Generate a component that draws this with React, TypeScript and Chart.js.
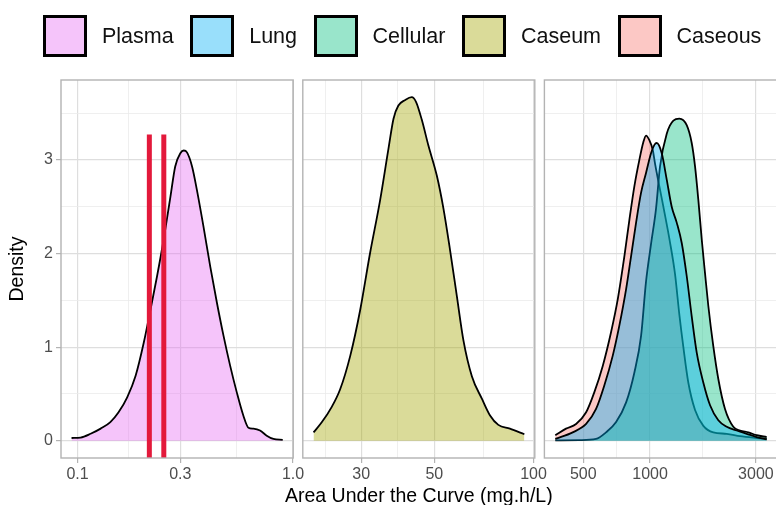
import React, { useEffect, useRef } from "react";
import { Chart, registerables } from "chart.js";

Chart.register(...registerables);

const FONT = "'Liberation Sans', Arial, Helvetica, sans-serif";

// ---------- legend ----------
const legendLabels = ["Plasma", "Lung", "Cellular", "Caseum", "Caseous"];
const legendColors = [
  "rgba(231,107,243,0.4)",
  "rgba(0,176,246,0.4)",
  "rgba(0,191,125,0.4)",
  "rgba(163,165,0,0.4)",
  "rgba(248,118,109,0.4)",
];

// ---------- shared density axis ----------
const densityTicks = [0, 1, 2, 3];
const densityMinor = [0.5, 1.5, 2.5, 3.5];
const densityRange = [-0.1835, 3.853];

// ---------- panel 1: Plasma ----------
const plasmaAuc = [0.0938, 0.1033, 0.115, 0.128, 0.142, 0.155, 0.17, 0.186, 0.203, 0.218, 0.234, 0.251, 0.27, 0.284, 0.3, 0.311, 0.322, 0.34, 0.358, 0.384, 0.413, 0.443, 0.476, 0.511, 0.548, 0.588, 0.621, 0.655, 0.703, 0.755, 0.811, 0.896];
const plasmaDensity = [0.03, 0.035, 0.075, 0.13, 0.2, 0.305, 0.465, 0.695, 1.05, 1.4, 1.76, 2.15, 2.61, 2.93, 3.07, 3.1, 3.08, 2.93, 2.68, 2.29, 1.86, 1.48, 1.12, 0.8, 0.52, 0.27, 0.14, 0.13, 0.11, 0.055, 0.02, 0.01];
const observedAuc = [0.2154, 0.2514];
const observedTop = 3.27;
const panel1Ticks = [0.1, 0.3, 1.0];
const panel1Labels = ["0.1", "0.3", "1.0"];
const panel1Minor = [0.173, 0.548];
const panel1Range = [0.0838, 1.002];

// ---------- panel 2: Caseum ----------
const caseumAuc = [21.5, 22.8, 24.4, 25.9, 27.8, 29.8, 31.9, 34.2, 36.3, 37.6, 38.9, 40.8, 42.7, 44.0, 45.8, 48.0, 50.9, 53.3, 55.8, 58.5, 61.3, 65.0, 69.7, 73.8, 78.2, 84.8, 93.8];
const caseumDensity = [0.09, 0.2, 0.36, 0.55, 0.91, 1.4, 2.0, 2.56, 3.12, 3.44, 3.58, 3.64, 3.67, 3.62, 3.43, 3.15, 2.83, 2.48, 2.04, 1.55, 1.07, 0.69, 0.45, 0.27, 0.17, 0.13, 0.07];
const panel2Ticks = [30, 50, 100];
const panel2Labels = ["30", "50", "100"];
const panel2Minor = [23.3, 38.7, 70.7];
const panel2Range = [19.95, 100.9];

// ---------- panel 3: Caseous, Cellular, Lung ----------
const caseousAuc = [374, 418, 464, 515, 561, 612, 667, 715, 766, 807, 850, 895, 933, 959, 993, 1028, 1053, 1148, 1230, 1296, 1355, 1413, 1488, 1595, 1739, 1928, 2216, 2544, 3025, 3356];
const caseousDensity = [0.06, 0.13, 0.18, 0.305, 0.52, 0.8, 1.16, 1.51, 1.97, 2.36, 2.72, 3.0, 3.19, 3.26, 3.21, 3.11, 2.96, 2.5, 2.12, 1.78, 1.35, 1.0, 0.62, 0.33, 0.16, 0.09, 0.075, 0.05, 0.03, 0.02];
const cellularAuc = [374, 480, 571, 633, 703, 780, 850, 911, 959, 1010, 1064, 1109, 1189, 1274, 1355, 1463, 1541, 1595, 1651, 1710, 1769, 1831, 1928, 2031, 2177, 2373, 2544, 2773, 3025, 3356];
const cellularDensity = [0.005, 0.008, 0.02, 0.09, 0.2, 0.41, 0.73, 1.12, 1.7, 2.1, 2.48, 2.93, 3.28, 3.42, 3.44, 3.37, 3.18, 2.93, 2.57, 2.15, 1.79, 1.44, 1.01, 0.66, 0.34, 0.15, 0.11, 0.09, 0.06, 0.04];
const lungAuc = [374, 448, 515, 571, 622, 679, 727, 780, 821, 865, 911, 959, 1010, 1046, 1072, 1129, 1189, 1252, 1319, 1390, 1463, 1541, 1624, 1739, 1864, 2031, 2216, 2458, 2727, 3025, 3356];
const lungDensity = [0.02, 0.09, 0.18, 0.34, 0.59, 0.91, 1.23, 1.62, 1.97, 2.33, 2.65, 2.86, 3.07, 3.16, 3.18, 3.07, 2.79, 2.5, 2.33, 2.11, 1.76, 1.33, 0.94, 0.62, 0.38, 0.22, 0.15, 0.11, 0.075, 0.04, 0.015];
const panel3Ticks = [500, 1000, 3000];
const panel3Labels = ["500", "1000", "3000"];
const panel3Minor = [707, 1732];
const panel3Range = [334, 3750];

const xTitleText = "Area Under the Curve (mg.h/L)";
const yTitleText = "Density";

// ---------- layout constants ----------
const W = 776;
const H = 505;
const AREA_TOP = 80;
const X_AXIS_H = 47;
const Y_AXIS_W = 61;
const MAJOR_GRID = "#dedede";
const MINOR_GRID = "#ebebeb";
const FRAME = "#b3b3b3";
const TICK_TEXT = "#4d4d4d";

function idx(list: number[], v: number | undefined) {
  if (v === undefined || v === null) return -1;
  return list.findIndex((t) => Math.abs(t - v) <= Math.abs(t) * 1e-6 + 1e-12);
}

const framePlugin = {
  id: "panelFrame",
  afterDatasetsDraw(chart: any) {
    const { ctx, chartArea: a } = chart;
    ctx.save();
    ctx.strokeStyle = FRAME;
    ctx.lineWidth = 1.4;
    ctx.strokeRect(a.left, a.top, a.right - a.left, a.bottom - a.top);
    ctx.restore();
  },
};

// Draws the shared x-axis title centred under the panel, at its natural width
const xTitlePlugin = {
  id: "sharedXTitle",
  afterDraw(chart: any) {
    const text = chart.options.plugins?.sharedXTitle?.text;
    if (!text) return;
    const { ctx, chartArea: a } = chart;
    ctx.save();
    ctx.font = `19.5px ${FONT}`;
    ctx.fillStyle = "#000000";
    ctx.textAlign = "center";
    ctx.textBaseline = "alphabetic";
    ctx.fillText(text, (a.left + a.right) / 2, 502);
    ctx.restore();
  },
};

function curve(label: string, xs: number[], ys: number[], color: string, order: number) {
  return {
    label,
    data: xs.map((x, i) => ({ x, y: ys[i] })),
    borderColor: "#000000",
    borderWidth: 1.8,
    backgroundColor: color,
    fill: "origin",
    pointRadius: 0,
    cubicInterpolationMode: "monotone",
    borderJoinStyle: "round",
    order,
  };
}

type Spec = {
  datasets: any[];
  range: number[];
  ticks: number[];
  labels: string[];
  minor: number[];
  areaLeft: number;
  areaRight: number;
  canvasWidth: number;
  showY: boolean;
  xTitle: string | null;
};

function buildPanel(canvas: HTMLCanvasElement, s: Spec) {
  const xAll = [...s.ticks, ...s.minor].sort((a, b) => a - b);
  const yAll = [...densityTicks, ...densityMinor].sort((a, b) => a - b);
  return new Chart(canvas, {
    type: "line",
    data: { datasets: s.datasets },
    options: {
      responsive: false,
      animation: false,
      events: [],
      layout: {
        autoPadding: false,
        padding: {
          left: s.areaLeft - (s.showY ? Y_AXIS_W : 0),
          right: s.canvasWidth - s.areaRight,
          top: AREA_TOP,
          bottom: 0,
        },
      },
      plugins: {
        legend: { display: false },
        tooltip: { enabled: false },
        sharedXTitle: { text: s.xTitle },
      },
      scales: {
        x: {
          type: "logarithmic",
          min: s.range[0],
          max: s.range[1],
          afterBuildTicks: (sc: any) => {
            sc.ticks = xAll.map((v) => ({ value: v }));
          },
          afterFit: (sc: any) => {
            sc.height = X_AXIS_H;
          },
          border: { display: false },
          grid: {
            drawOnChartArea: true,
            drawTicks: true,
            tickLength: 5,
            color: (c: any) => (idx(s.ticks, c.tick?.value) >= 0 ? MAJOR_GRID : MINOR_GRID),
            lineWidth: (c: any) => (idx(s.ticks, c.tick?.value) >= 0 ? 1.2 : 0.8),
            tickColor: (c: any) => (idx(s.ticks, c.tick?.value) >= 0 ? FRAME : "rgba(0,0,0,0)"),
            tickWidth: 1.2,
          },
          ticks: {
            autoSkip: false,
            maxRotation: 0,
            minRotation: 0,
            padding: 2,
            color: TICK_TEXT,
            font: { family: FONT, size: 16 },
            callback: (v: any) => {
              const i = idx(s.ticks, Number(v));
              return i >= 0 ? s.labels[i] : "";
            },
          },
          title: { display: false },
        },
        y: {
          type: "linear",
          min: densityRange[0],
          max: densityRange[1],
          afterBuildTicks: (sc: any) => {
            sc.ticks = yAll.map((v) => ({ value: v }));
          },
          afterFit: (sc: any) => {
            sc.width = s.showY ? Y_AXIS_W : 0;
          },
          border: { display: false },
          grid: {
            drawOnChartArea: true,
            drawTicks: s.showY,
            tickLength: 5,
            color: (c: any) => (idx(densityTicks, c.tick?.value) >= 0 ? MAJOR_GRID : MINOR_GRID),
            lineWidth: (c: any) => (idx(densityTicks, c.tick?.value) >= 0 ? 1.2 : 0.8),
            tickColor: (c: any) => (idx(densityTicks, c.tick?.value) >= 0 ? FRAME : "rgba(0,0,0,0)"),
            tickWidth: 1.2,
          },
          ticks: {
            display: s.showY,
            autoSkip: false,
            padding: 3,
            color: TICK_TEXT,
            font: { family: FONT, size: 16 },
            callback: (v: any) => (idx(densityTicks, Number(v)) >= 0 ? String(v) : ""),
          },
          title: {
            display: s.showY,
            text: yTitleText,
            color: "#000000",
            font: { family: FONT, size: 19.5, lineHeight: 1 },
            padding: { top: 7.5, bottom: 0 },
          },
        },
      },
    } as any,
    plugins: [framePlugin, xTitlePlugin],
  });
}

export default function App() {
  const r1 = useRef<HTMLCanvasElement>(null);
  const r2 = useRef<HTMLCanvasElement>(null);
  const r3 = useRef<HTMLCanvasElement>(null);

  useEffect(() => {
    const charts: Chart[] = [];
    const redLines = observedAuc.map((x, i) => ({
      label: "observed " + i,
      data: [
        { x, y: densityRange[0] },
        { x, y: observedTop },
      ],
      borderColor: "#E3193B",
      borderWidth: 5,
      borderCapStyle: "butt",
      fill: false,
      pointRadius: 0,
      tension: 0,
      order: -1,
    }));
    if (r1.current) {
      charts.push(
        buildPanel(r1.current, {
          datasets: [curve("Plasma", plasmaAuc, plasmaDensity, legendColors[0], 1), ...redLines],
          range: panel1Range,
          ticks: panel1Ticks,
          labels: panel1Labels,
          minor: panel1Minor,
          areaLeft: 61,
          areaRight: 293.2,
          canvasWidth: W,
          showY: true,
          xTitle: null,
        })
      );
    }
    if (r2.current) {
      charts.push(
        buildPanel(r2.current, {
          datasets: [curve("Caseum", caseumAuc, caseumDensity, legendColors[3], 1)],
          range: panel2Range,
          ticks: panel2Ticks,
          labels: panel2Labels,
          minor: panel2Minor,
          areaLeft: 302.8,
          areaRight: 534.8,
          canvasWidth: W,
          showY: false,
          xTitle: xTitleText,
        })
      );
    }
    if (r3.current) {
      charts.push(
        buildPanel(r3.current, {
          datasets: [
            curve("Lung", lungAuc, lungDensity, legendColors[1], 0),
            curve("Cellular", cellularAuc, cellularDensity, legendColors[2], 1),
            curve("Caseous", caseousAuc, caseousDensity, legendColors[4], 2),
          ],
          range: panel3Range,
          ticks: panel3Ticks,
          labels: panel3Labels,
          minor: panel3Minor,
          areaLeft: 544.4,
          areaRight: 777.4,
          canvasWidth: 792,
          showY: false,
          xTitle: null,
        })
      );
    }
    return () => {
      charts.forEach((c) => c.destroy());
    };
  }, []);

  const canvasStyle: React.CSSProperties = { position: "absolute", left: 0, top: 0, display: "block" };

  return (
    <div
      style={{
        position: "absolute",
        left: 0,
        top: 0,
        width: W,
        height: H,
        overflow: "hidden",
        background: "#ffffff",
        fontFamily: FONT,
      }}
    >
      <canvas ref={r1} width={W} height={H} style={canvasStyle} />
      <canvas ref={r2} width={W} height={H} style={canvasStyle} />
      <canvas ref={r3} width={792} height={H} style={canvasStyle} />
      <div
        style={{
          position: "absolute",
          left: 43,
          top: 15,
          height: 42,
          display: "flex",
          alignItems: "center",
          whiteSpace: "nowrap",
        }}
      >
        {legendLabels.map((label, i) => (
          <div key={label} style={{ display: "flex", alignItems: "center", marginRight: 16.5 }}>
            <div
              style={{
                width: 44,
                height: 42,
                boxSizing: "border-box",
                border: "3px solid #000",
                background: legendColors[i],
              }}
            />
            <span style={{ marginLeft: 15, fontSize: 21.5, lineHeight: "42px", color: "#111" }}>{label}</span>
          </div>
        ))}
      </div>
    </div>
  );
}
